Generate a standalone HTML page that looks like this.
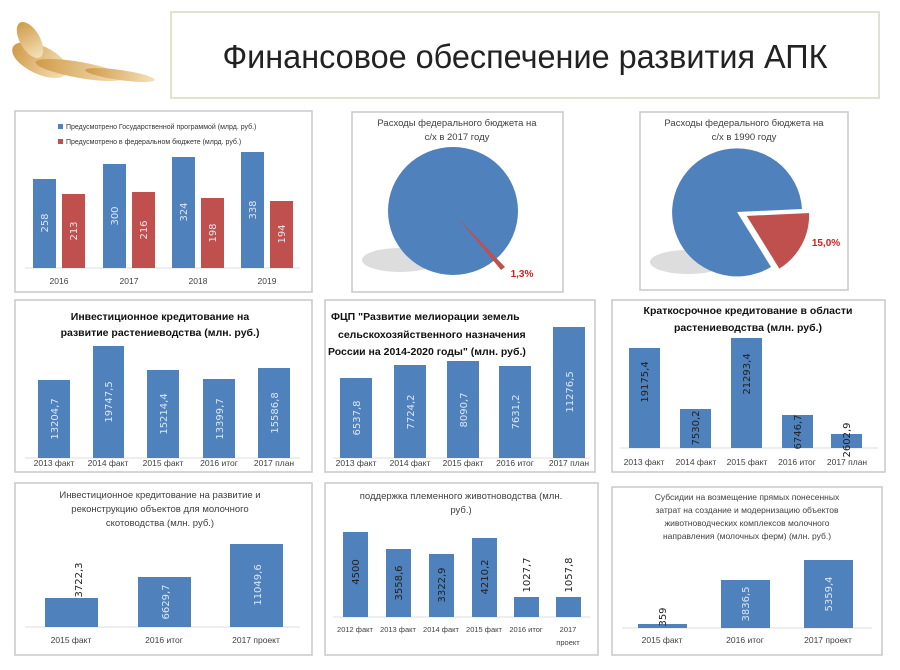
<!DOCTYPE html>
<html><head><meta charset="utf-8"><style>
body{margin:0;background:#fff;}
svg{display:block;font-family:"Liberation Sans Narrow","Liberation Sans","DejaVu Sans",sans-serif;}
.p{fill:#fff;stroke:#c8c8c8;stroke-width:1.5}
.b{fill:#4f81bd}
.r{fill:#c0504d}
.ax{font-size:8.5px;fill:#404040;text-anchor:middle}
.v{font-size:10px;fill:#dce6f2;text-anchor:middle;font-family:"DejaVu Sans",sans-serif}
.vd{font-size:10px;fill:#222;text-anchor:middle;font-family:"DejaVu Sans",sans-serif}
.t{font-size:10.5px;fill:#111;text-anchor:middle;font-weight:bold}
.ts{font-size:9.5px;fill:#404040;text-anchor:middle}
</style></head><body>
<svg width="900" height="670" viewBox="0 0 900 670">
<defs><linearGradient id="w" x1="0" x2="1"><stop offset="0" stop-color="#c98a2a"/><stop offset="1" stop-color="#f3dcae"/></linearGradient></defs>
<g fill="url(#w)" opacity="0.85">
<ellipse cx="40" cy="60" rx="30" ry="14" transform="rotate(25 40 60)"/>
<ellipse cx="80" cy="70" rx="45" ry="8" transform="rotate(10 80 70)"/>
<ellipse cx="30" cy="40" rx="20" ry="10" transform="rotate(60 30 40)"/>
<ellipse cx="120" cy="75" rx="35" ry="5" transform="rotate(8 120 75)"/>
</g>
<rect x="171" y="12" width="708" height="86" fill="#fff" stroke="#dfe3d0" stroke-width="2"/>
<text x="525" y="68" font-size="33" fill="#222" text-anchor="middle" textLength="605" lengthAdjust="spacingAndGlyphs">Финансовое обеспечение развития АПК</text>

<!-- panel 1 -->
<rect class="p" x="15" y="111" width="297" height="181"/>
<rect class="b" x="58" y="124" width="5" height="5"/>
<text x="66" y="129" font-size="7" fill="#333">Предусмотрено Государственной программой (млрд. руб.)</text>
<rect class="r" x="58" y="139" width="5" height="5"/>
<text x="66" y="144" font-size="7" fill="#333">Предусмотрено в федеральном бюджете (млрд. руб.)</text>
<line x1="25" y1="268" x2="300" y2="268" stroke="#ddd"/>
<rect class="b" x="33" y="179" width="23" height="89"/><rect class="r" x="62" y="194" width="23" height="74"/>
<rect class="b" x="103" y="164" width="23" height="104"/><rect class="r" x="132" y="192" width="23" height="76"/>
<rect class="b" x="172" y="157" width="23" height="111"/><rect class="r" x="201" y="198" width="23" height="70"/>
<rect class="b" x="241" y="152" width="23" height="116"/><rect class="r" x="270" y="201" width="23" height="67"/>
<g class="v"><text transform="translate(48,223) rotate(-90)">258</text><text transform="translate(77,231) rotate(-90)">213</text>
<text transform="translate(118,216) rotate(-90)">300</text><text transform="translate(147,230) rotate(-90)">216</text>
<text transform="translate(187,212) rotate(-90)">324</text><text transform="translate(216,233) rotate(-90)">198</text>
<text transform="translate(256,210) rotate(-90)">338</text><text transform="translate(285,234) rotate(-90)">194</text></g>
<g class="ax"><text x="59" y="284">2016</text><text x="129" y="284">2017</text><text x="198" y="284">2018</text><text x="267" y="284">2019</text></g>

<!-- pie 1 -->
<rect class="p" x="352" y="112" width="211" height="180"/>
<text x="457" y="126" class="ts">Расходы федерального бюджета на</text>
<text x="457" y="140" class="ts">с/х в 2017 году</text>
<ellipse cx="400" cy="260" rx="38" ry="12" fill="#ddd"/>
<ellipse cx="453" cy="211" rx="65" ry="64" fill="#4f81bd"/>
<polygon points="458,218 505,267 501,270" fill="#c0504d"/>
<text x="522" y="277" font-size="10" font-weight="bold" fill="#d02020" text-anchor="middle">1,3%</text>

<!-- pie 2 -->
<rect class="p" x="640" y="112" width="208" height="178"/>
<text x="744" y="126" class="ts">Расходы федерального бюджета на</text>
<text x="744" y="140" class="ts">с/х в 1990 году</text>
<ellipse cx="688" cy="262" rx="38" ry="12" fill="#ddd"/>
<path d="M737,212 L802,209 A65,64 0 1 0 771,267 Z" fill="#4f81bd"/>
<path d="M745,215 L810,212 A65,64 0 0 1 779,270 Z" fill="#c0504d" stroke="#fff" stroke-width="2"/>
<text x="826" y="246" font-size="10" font-weight="bold" fill="#d02020" text-anchor="middle">15,0%</text>

<!-- row 2 A -->
<rect class="p" x="15" y="300" width="297" height="172"/>
<text x="160" y="320" class="t">Инвестиционное кредитование на</text>
<text x="160" y="336" class="t">развитие растениеводства (млн. руб.)</text>
<line x1="25" y1="458" x2="300" y2="458" stroke="#ddd"/>
<rect class="b" x="38" y="380" width="32" height="78"/><rect class="b" x="93" y="346" width="31" height="112"/>
<rect class="b" x="147" y="370" width="32" height="88"/><rect class="b" x="203" y="379" width="32" height="79"/>
<rect class="b" x="258" y="368" width="32" height="90"/>
<g class="v"><text transform="translate(58,419) rotate(-90)">13204,7</text><text transform="translate(112,402) rotate(-90)">19747,5</text>
<text transform="translate(167,414) rotate(-90)">15214,4</text><text transform="translate(223,419) rotate(-90)">13399,7</text>
<text transform="translate(278,413) rotate(-90)">15586,8</text></g>
<g class="ax"><text x="54" y="466">2013 факт</text><text x="108" y="466">2014 факт</text><text x="163" y="466">2015 факт</text><text x="219" y="466">2016 итог</text><text x="274" y="466">2017 план</text></g>

<!-- row 2 B -->
<rect class="p" x="325" y="300" width="270" height="172"/>
<g class="t" style="text-anchor:start"><text x="331" y="320">ФЦП "Развитие мелиорации земель</text><text x="338" y="338">сельскохозяйственного назначения</text><text x="328" y="355">России на 2014-2020 годы" (млн. руб.)</text></g>
<line x1="333" y1="458" x2="590" y2="458" stroke="#ddd"/>
<rect class="b" x="340" y="378" width="32" height="80"/><rect class="b" x="394" y="365" width="32" height="93"/>
<rect class="b" x="447" y="361" width="32" height="97"/><rect class="b" x="499" y="366" width="32" height="92"/>
<rect class="b" x="553" y="327" width="32" height="131"/>
<g class="v"><text transform="translate(360,418) rotate(-90)">6537,8</text><text transform="translate(414,412) rotate(-90)">7724,2</text>
<text transform="translate(467,410) rotate(-90)">8090,7</text><text transform="translate(519,412) rotate(-90)">7631,2</text>
<text transform="translate(573,392) rotate(-90)">11276,5</text></g>
<g class="ax"><text x="356" y="466">2013 факт</text><text x="410" y="466">2014 факт</text><text x="463" y="466">2015 факт</text><text x="515" y="466">2016 итог</text><text x="569" y="466">2017 план</text></g>

<!-- row 2 C -->
<rect class="p" x="612" y="300" width="273" height="172"/>
<text x="748" y="314" class="t">Краткосрочное кредитование в области</text>
<text x="748" y="331" class="t">растениеводства (млн. руб.)</text>
<line x1="620" y1="448" x2="878" y2="448" stroke="#ddd"/>
<rect class="b" x="629" y="348" width="31" height="100"/><rect class="b" x="680" y="409" width="31" height="39"/>
<rect class="b" x="731" y="338" width="31" height="110"/><rect class="b" x="782" y="415" width="31" height="33"/>
<rect class="b" x="831" y="434" width="31" height="14"/>
<g class="vd"><text transform="translate(648,382) rotate(-90)">19175,4</text><text transform="translate(699,428) rotate(-90)">7530,2</text>
<text transform="translate(750,374) rotate(-90)">21293,4</text><text transform="translate(801,432) rotate(-90)">6746,7</text>
<text transform="translate(850,440) rotate(-90)">2602,9</text></g>
<g class="ax"><text x="644" y="465">2013 факт</text><text x="696" y="465">2014 факт</text><text x="747" y="465">2015 факт</text><text x="797" y="465">2016 итог</text><text x="847" y="465">2017 план</text></g>

<!-- row 3 A -->
<rect class="p" x="15" y="483" width="297" height="172"/>
<g class="ts"><text x="160" y="498">Инвестиционное кредитование на развитие и</text><text x="160" y="512">реконструкцию объектов для молочного</text><text x="160" y="526">скотоводства (млн. руб.)</text></g>
<line x1="25" y1="627" x2="300" y2="627" stroke="#ddd"/>
<rect class="b" x="45" y="598" width="53" height="29"/><rect class="b" x="138" y="577" width="53" height="50"/><rect class="b" x="230" y="544" width="53" height="83"/>
<text class="vd" transform="translate(82,580) rotate(-90)">3722,3</text>
<g class="v"><text transform="translate(169,602) rotate(-90)">6629,7</text><text transform="translate(261,585) rotate(-90)">11049,6</text></g>
<g class="ax"><text x="71" y="643">2015 факт</text><text x="164" y="643">2016 итог</text><text x="256" y="643">2017 проект</text></g>

<!-- row 3 B -->
<rect class="p" x="325" y="483" width="273" height="172"/>
<g class="ts"><text x="461" y="499">поддержка племенного животноводства (млн.</text><text x="461" y="513">руб.)</text></g>
<line x1="333" y1="617" x2="590" y2="617" stroke="#ddd"/>
<rect class="b" x="343" y="532" width="25" height="85"/><rect class="b" x="386" y="549" width="25" height="68"/>
<rect class="b" x="429" y="554" width="25" height="63"/><rect class="b" x="472" y="538" width="25" height="79"/>
<rect class="b" x="514" y="597" width="25" height="20"/><rect class="b" x="556" y="597" width="25" height="20"/>
<g class="vd"><text transform="translate(359,572) rotate(-90)">4500</text><text transform="translate(402,583) rotate(-90)">3558,6</text>
<text transform="translate(445,585) rotate(-90)">3322,9</text><text transform="translate(488,577) rotate(-90)">4210,2</text>
<text transform="translate(530,575) rotate(-90)">1027,7</text><text transform="translate(572,575) rotate(-90)">1057,8</text></g>
<g class="ax" style="font-size:7.5px"><text x="355" y="632">2012 факт</text><text x="398" y="632">2013 факт</text><text x="441" y="632">2014 факт</text><text x="484" y="632">2015 факт</text><text x="526" y="632">2016 итог</text><text x="568" y="632">2017</text><text x="568" y="645">проект</text></g>

<!-- row 3 C -->
<rect class="p" x="612" y="487" width="270" height="168"/>
<g class="ts" style="font-size:8.5px"><text x="747" y="500">Субсидии на возмещение прямых понесенных</text><text x="747" y="513">затрат на создание и модернизацию объектов</text><text x="747" y="526">животноводческих комплексов молочного</text><text x="747" y="539">направления (молочных ферм) (млн. руб.)</text></g>
<line x1="622" y1="628" x2="872" y2="628" stroke="#ddd"/>
<rect class="b" x="638" y="624" width="49" height="4"/><rect class="b" x="721" y="580" width="49" height="48"/><rect class="b" x="804" y="560" width="49" height="68"/>
<text class="vd" transform="translate(666,617) rotate(-90)">359</text>
<g class="v"><text transform="translate(749,604) rotate(-90)">3836,5</text><text transform="translate(832,594) rotate(-90)">5359,4</text></g>
<g class="ax"><text x="662" y="643">2015 факт</text><text x="745" y="643">2016 итог</text><text x="828" y="643">2017 проект</text></g>
</svg>
</body></html>
